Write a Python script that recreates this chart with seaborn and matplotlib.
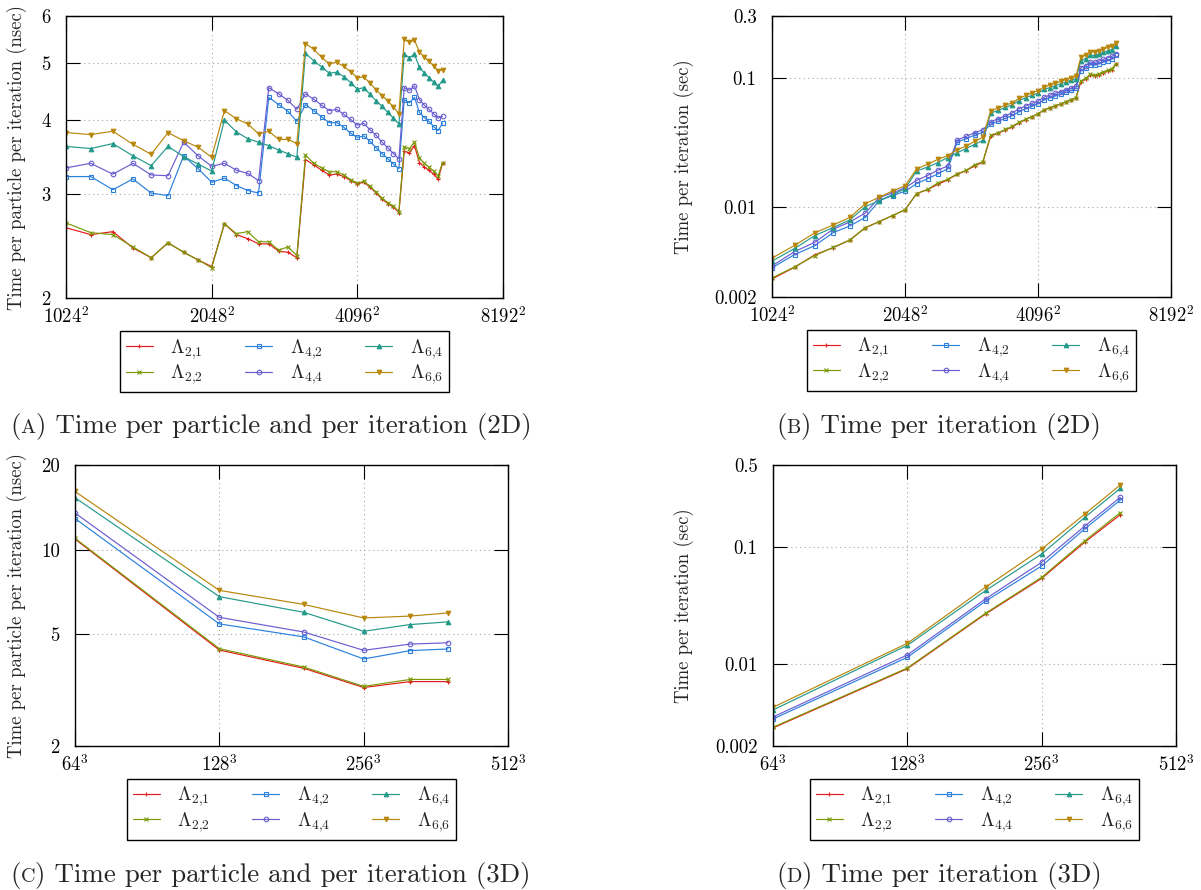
import seaborn as sns
import matplotlib.pyplot as plt
from matplotlib.ticker import FixedLocator, FixedFormatter, NullLocator

# grid sizes (side length) for the 2D and 3D runs
sizes_2d = [1024, 1152, 1280, 1408, 1536, 1664, 1792, 1920, 2048,
            2176, 2304, 2432, 2560, 2688, 2816, 2944, 3072,
            3200, 3328, 3456, 3584, 3712, 3840, 3968, 4096,
            4224, 4352, 4480, 4608, 4736, 4864, 4992,
            5120, 5248, 5376, 5504, 5632, 5760, 5888, 6016, 6144]
sizes_3d = [64, 128, 192, 256, 320, 384]

labels = [r'$\Lambda_{2{,}1}$', r'$\Lambda_{2{,}2}$', r'$\Lambda_{4{,}2}$',
          r'$\Lambda_{4{,}4}$', r'$\Lambda_{6{,}4}$', r'$\Lambda_{6{,}6}$']
colors = ['#e41a1c', '#7a9a05', '#2b80dc', '#6a5dd0', '#23998a', '#b8860b']
markers = ['+', 'x', 's', 'o', '^', 'v']

# (A) time per particle per iteration, 2D (nsec)
a_l21 = [2.63, 2.56, 2.59, 2.43, 2.34, 2.48, 2.39, 2.32, 2.26,
         2.67, 2.56, 2.52, 2.47, 2.47, 2.40, 2.39, 2.34,
         3.43, 3.36, 3.29, 3.23, 3.24, 3.21, 3.16, 3.12,
         3.14, 3.08, 3.01, 2.94, 2.89, 2.85, 2.79,
         3.54, 3.52, 3.62, 3.39, 3.33, 3.29, 3.24, 3.18, 3.38]
a_l22 = [2.68, 2.58, 2.56, 2.44, 2.34, 2.48, 2.39, 2.32, 2.25,
         2.67, 2.57, 2.59, 2.49, 2.49, 2.41, 2.44, 2.36,
         3.49, 3.38, 3.32, 3.27, 3.27, 3.23, 3.17, 3.13,
         3.15, 3.09, 3.02, 2.95, 2.90, 2.86, 2.80,
         3.60, 3.58, 3.67, 3.45, 3.38, 3.33, 3.28, 3.22, 3.39]
a_l42 = [3.21, 3.21, 3.05, 3.18, 3.01, 2.98, 3.48, 3.31, 3.14,
         3.19, 3.10, 3.04, 3.01, 4.37, 4.25, 4.14, 3.98,
         4.25, 4.15, 4.05, 3.96, 3.96, 3.89, 3.80, 3.74,
         3.76, 3.68, 3.59, 3.51, 3.44, 3.37, 3.31,
         4.33, 4.28, 4.37, 4.12, 4.04, 3.98, 3.90, 3.84, 3.95]
a_l44 = [3.32, 3.38, 3.24, 3.38, 3.23, 3.22, 3.67, 3.48, 3.34,
         3.38, 3.29, 3.25, 3.16, 4.54, 4.43, 4.32, 4.17,
         4.43, 4.34, 4.24, 4.15, 4.17, 4.09, 4.01, 3.92,
         3.95, 3.85, 3.77, 3.67, 3.59, 3.51, 3.44,
         4.54, 4.49, 4.57, 4.33, 4.24, 4.17, 4.10, 4.03, 4.06]
a_l64 = [3.61, 3.58, 3.65, 3.48, 3.35, 3.61, 3.47, 3.37, 3.28,
         4.00, 3.82, 3.72, 3.67, 3.62, 3.56, 3.51, 3.46,
         5.19, 5.04, 4.92, 4.80, 4.82, 4.74, 4.63, 4.51,
         4.54, 4.42, 4.31, 4.22, 4.12, 4.03, 3.94,
         5.17, 5.10, 5.17, 4.91, 4.81, 4.72, 4.64, 4.56, 4.67]
a_l66 = [3.81, 3.78, 3.83, 3.64, 3.50, 3.81, 3.69, 3.60, 3.46,
         4.15, 4.02, 3.94, 3.79, 3.83, 3.71, 3.71, 3.65,
         5.39, 5.27, 5.11, 4.98, 5.01, 4.93, 4.83, 4.72,
         4.73, 4.62, 4.50, 4.40, 4.31, 4.21, 4.10,
         5.48, 5.42, 5.46, 5.22, 5.11, 5.03, 4.94, 4.84, 4.87]

# (B) time per iteration, 2D (sec)
b_l21 = [0.00276, 0.00340, 0.00424, 0.00482, 0.00552, 0.00687, 0.00768, 0.00855, 0.00948,
         0.01264, 0.01359, 0.01491, 0.01619, 0.01785, 0.01903, 0.02071, 0.02208,
         0.03512, 0.03721, 0.03930, 0.04149, 0.04464, 0.04733, 0.04975, 0.05234,
         0.05602, 0.05833, 0.06041, 0.06243, 0.06482, 0.06743, 0.06953,
         0.0928, 0.09695, 0.1046, 0.1027, 0.1056, 0.1092, 0.1123, 0.1151, 0.1276]
b_l22 = [0.00281, 0.00342, 0.00419, 0.00484, 0.00552, 0.00687, 0.00768, 0.00855, 0.00944,
         0.01264, 0.01364, 0.01532, 0.01632, 0.01799, 0.01911, 0.02115, 0.02227,
         0.03574, 0.03744, 0.03965, 0.04200, 0.04506, 0.04763, 0.04991, 0.05251,
         0.05620, 0.05852, 0.06061, 0.06264, 0.06505, 0.06766, 0.06978,
         0.09437, 0.0986, 0.1061, 0.1045, 0.1072, 0.1105, 0.1137, 0.1165, 0.1280]
b_l42 = [0.00337, 0.00426, 0.00500, 0.00630, 0.00710, 0.00825, 0.01118, 0.01220, 0.01317,
         0.01510, 0.01646, 0.01798, 0.01973, 0.03157, 0.03370, 0.03588, 0.03756,
         0.04352, 0.04596, 0.04837, 0.05087, 0.05456, 0.05736, 0.05983, 0.06275,
         0.06709, 0.06970, 0.07205, 0.07453, 0.07716, 0.07973, 0.08249,
         0.1135, 0.1179, 0.1263, 0.1248, 0.1281, 0.1320, 0.1352, 0.1390, 0.1491]
b_l44 = [0.00348, 0.00449, 0.00531, 0.00670, 0.00762, 0.00892, 0.01179, 0.01283, 0.01401,
         0.01600, 0.01746, 0.01922, 0.02071, 0.03280, 0.03513, 0.03744, 0.03935,
         0.04536, 0.04807, 0.05064, 0.05331, 0.05746, 0.06031, 0.06314, 0.06577,
         0.07048, 0.07292, 0.07567, 0.07793, 0.08052, 0.08304, 0.08573,
         0.1190, 0.1237, 0.1321, 0.1312, 0.1345, 0.1384, 0.1421, 0.1459, 0.1533]
b_l64 = [0.00379, 0.00475, 0.00598, 0.00690, 0.00790, 0.01000, 0.01114, 0.01242, 0.01376,
         0.01894, 0.02028, 0.02200, 0.02405, 0.02616, 0.02823, 0.03042, 0.03265,
         0.05315, 0.05582, 0.05876, 0.06166, 0.06641, 0.06989, 0.07290, 0.07567,
         0.08100, 0.08371, 0.08650, 0.08961, 0.09241, 0.09534, 0.09819,
         0.1355, 0.1405, 0.1494, 0.1487, 0.1526, 0.1566, 0.1609, 0.1650, 0.1763]
b_l66 = [0.00400, 0.00502, 0.00628, 0.00722, 0.00826, 0.01055, 0.01185, 0.01327, 0.01451,
         0.01965, 0.02134, 0.02330, 0.02484, 0.02767, 0.02942, 0.03216, 0.03445,
         0.05519, 0.05837, 0.06103, 0.06397, 0.06903, 0.07270, 0.07605, 0.07919,
         0.08439, 0.08750, 0.09032, 0.09343, 0.09667, 0.09960, 0.1022,
         0.1437, 0.1493, 0.1578, 0.1581, 0.1621, 0.1669, 0.1713, 0.1752, 0.1838]

# (C) time per particle per iteration, 3D (nsec)
c_l21 = [10.9, 4.39, 3.78, 3.23, 3.39, 3.39]
c_l22 = [10.97, 4.44, 3.82, 3.26, 3.45, 3.45]
c_l42 = [12.9, 5.44, 4.89, 4.08, 4.37, 4.43]
c_l44 = [13.5, 5.74, 5.09, 4.38, 4.61, 4.66]
c_l64 = [15.3, 6.80, 5.98, 5.12, 5.41, 5.53]
c_l66 = [16.1, 7.16, 6.38, 5.71, 5.80, 5.95]

# (D) time per iteration, 3D (sec)
d_l21 = [0.00285, 0.00914, 0.0269, 0.0539, 0.110, 0.188]
d_l22 = [0.00289, 0.00926, 0.0273, 0.0550, 0.113, 0.196]
d_l42 = [0.00340, 0.01142, 0.0346, 0.0688, 0.143, 0.251]
d_l44 = [0.00354, 0.01196, 0.0362, 0.0739, 0.151, 0.265]
d_l64 = [0.00406, 0.01446, 0.0426, 0.0870, 0.179, 0.316]
d_l66 = [0.00428, 0.01504, 0.0455, 0.0960, 0.191, 0.338]

sns.set_style('ticks')
plt.rcParams['font.family'] = 'serif'
plt.rcParams['font.serif'] = ['cmr10']
plt.rcParams['mathtext.fontset'] = 'cm'
plt.rcParams['axes.unicode_minus'] = False

W, H = 1201, 890
fig = plt.figure(figsize=(W / 100, H / 100), dpi=100)


def box(x0, y0, x1, y1):
    return [x0 / W, 1 - y1 / H, (x1 - x0) / W, (y1 - y0) / H]


panels = [
    dict(pos=box(66, 16, 503, 298), x=sizes_2d,
         ys=[a_l21, a_l22, a_l42, a_l44, a_l64, a_l66],
         xt=[1024, 2048, 4096, 8192], xl=[r'$1024^2$', r'$2048^2$', r'$4096^2$', r'$8192^2$'],
         ylim=(2, 6), yt=[2, 3, 4, 5, 6], yl=['2', '3', '4', '5', '6'],
         ylabel='Time per particle per iteration (nsec)', lx=-0.089),
    dict(pos=box(772, 16, 1171, 297), x=sizes_2d,
         ys=[b_l21, b_l22, b_l42, b_l44, b_l64, b_l66],
         xt=[1024, 2048, 4096, 8192], xl=[r'$1024^2$', r'$2048^2$', r'$4096^2$', r'$8192^2$'],
         ylim=(0.002, 0.3), yt=[0.002, 0.01, 0.1, 0.3], yl=['0.002', '0.01', '0.1', '0.3'],
         ylabel='Time per iteration (sec)', lx=-0.195),
    dict(pos=box(75, 465, 508, 746), x=sizes_3d,
         ys=[c_l21, c_l22, c_l42, c_l44, c_l64, c_l66],
         xt=[64, 128, 256, 512], xl=[r'$64^3$', r'$128^3$', r'$256^3$', r'$512^3$'],
         ylim=(2, 20), yt=[2, 5, 10, 20], yl=['2', '5', '10', '20'],
         ylabel='Time per particle per iteration (nsec)', lx=-0.111),
    dict(pos=box(773, 465, 1176, 746), x=sizes_3d,
         ys=[d_l21, d_l22, d_l42, d_l44, d_l64, d_l66],
         xt=[64, 128, 256, 512], xl=[r'$64^3$', r'$128^3$', r'$256^3$', r'$512^3$'],
         ylim=(0.002, 0.5), yt=[0.002, 0.01, 0.1, 0.5], yl=['0.002', '0.01', '0.1', '0.5'],
         ylabel='Time per iteration (sec)', lx=-0.196),
]

for p in panels:
    ax = fig.add_axes(p['pos'])
    for vals, lab, col, mk in zip(p['ys'], labels, colors, markers):
        open_mk = mk in ('s', 'o')
        sns.lineplot(x=p['x'], y=vals, ax=ax, color=col, marker=mk, label=lab,
                     lw=0.85, markersize=3.3, mew=0.8, mec=col,
                     mfc='none' if open_mk else col)
    ax.set_xscale('log', base=2)
    ax.set_yscale('log')
    ax.set_xlim(p['xt'][0], p['xt'][-1])
    ax.set_ylim(*p['ylim'])
    ax.xaxis.set_major_locator(FixedLocator(p['xt']))
    ax.xaxis.set_major_formatter(FixedFormatter(p['xl']))
    ax.yaxis.set_major_locator(FixedLocator(p['yt']))
    ax.yaxis.set_major_formatter(FixedFormatter(p['yl']))
    ax.xaxis.set_minor_locator(NullLocator())
    ax.yaxis.set_minor_locator(NullLocator())
    ax.tick_params(which='major', direction='in', length=10, width=0.8,
                   top=True, right=True, labelsize=13.5, colors='black')
    ax.tick_params(axis='x', pad=6)
    ax.tick_params(axis='y', pad=11)
    ax.grid(True, which='major', ls=(0, (1, 3)), color='#a8a8a8', lw=0.8)
    for s in ax.spines.values():
        s.set_linewidth(1.0)
        s.set_color('black')
    ax.set_xlabel('')
    ax.set_ylabel(p['ylabel'], fontsize=13.5)
    ax.yaxis.set_label_coords(p['lx'], 0.5)
    leg = ax.legend(loc='upper center', bbox_to_anchor=(0.5, -0.117), ncol=3,
                    frameon=True, fancybox=False, edgecolor='black', framealpha=1,
                    fontsize=14, handlelength=1.4, handletextpad=0.9,
                    columnspacing=2.15, labelspacing=0.1, borderpad=0.3,
                    borderaxespad=0)
    leg.get_frame().set_linewidth(1.0)

# captions with a small-caps panel letter
fig.canvas.draw()
renderer = fig.canvas.get_renderer()


def caption(x_px, base_px, letter, text):
    y = 1 - base_px / H
    x = x_px / W
    for piece, size in [('(', 19.4), (letter, 14.5), (') ' + text, 19.4)]:
        t = fig.text(x, y, piece, fontsize=size, va='baseline', ha='left')
        x = t.get_window_extent(renderer).x1 / fig.bbox.width


caption(10, 433, 'A', 'Time per particle and per iteration (2D)')
caption(776, 433, 'B', 'Time per iteration (2D)')
caption(10, 882, 'C', 'Time per particle and per iteration (3D)')
caption(776, 882, 'D', 'Time per iteration (3D)')

fig.savefig('out.png', dpi=100)
